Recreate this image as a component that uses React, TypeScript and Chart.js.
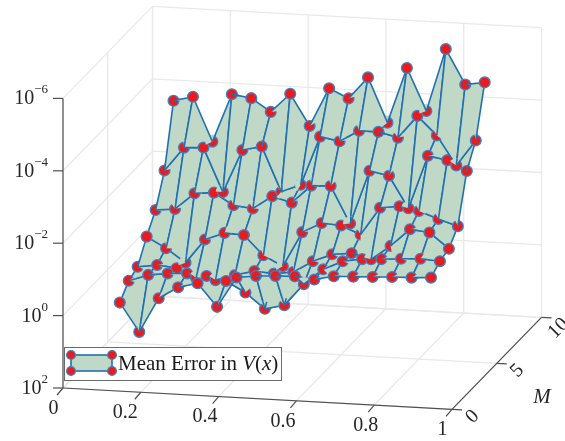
import React, { useEffect, useRef } from "react";
import { Chart, registerables } from "chart.js";

Chart.register(...registerables);

const xValues = [0.1, 0.15, 0.2, 0.25, 0.3, 0.35, 0.4, 0.45, 0.5, 0.55, 0.6, 0.65, 0.7, 0.75, 0.8, 0.85, 0.9];
const mValues = [2, 3, 4, 5, 6, 7, 8];
// log10(mean error) for each M
const errM2 = [0.09, 0.87, -0.09, -0.42, -0.56, 0.06, -0.78, -0.85, -0.88, -0.9, -0.84, -0.96, -0.98, -1.0, -1.03, -1.04, -1.07];
const errM3 = [-0.26, -0.45, -0.52, -0.55, -0.51, -0.4, -0.11, 0.31, 0.18, -0.43, -0.87, -1.12, -1.21, -1.24, -1.28, -1.31, -1.27];
const errM4 = [-0.39, -0.47, -0.41, -0.17, -0.14, -0.31, -0.45, -0.41, -0.48, -0.81, -1.03, -1.09, -0.95, -1.35, -1.84, -1.78, -1.36];
const errM5 = [-0.97, -0.68, -0.31, -0.98, -1.19, -1.16, -0.63, -0.36, -1.33, -1.61, -1.57, -1.35, -2.12, -2.19, -2.09, -1.9, -1.73];
const errM6 = [-1.45, -1.51, -1.97, -2.02, -1.7, -1.64, -2.01, -1.86, -2.36, -2.38, -1.37, -2.86, -2.75, -1.88, -3.36, -3.27, -3.0];
const errM7 = [-2.29, -2.95, -2.98, -1.78, -2.97, -3.1, -1.88, -2.1, -3.46, -3.36, -3.68, -3.68, -3.55, -4.18, -3.67, -2.87, -3.59];
const errM8 = [-3.96, -4.1, -2.89, -4.23, -4.15, -3.8, -4.33, -3.47, -4.54, -4.29, -4.9, -3.68, -5.22, -4.06, -5.8, -4.85, -4.94];
const errRows = [errM2, errM3, errM4, errM5, errM6, errM7, errM8];

const xTicks = [0, 0.2, 0.4, 0.6, 0.8, 1];
const xTickLabels = ["0", "0.2", "0.4", "0.6", "0.8", "1"];
const mTicks = [0, 5, 10];
const mTickLabels = ["0", "5", "10"];
const zTicks = [2, 0, -2, -4, -6];
const zTickLabels = ["2", "0", "\u22122", "\u22124", "\u22126"];
const legendLabel = "Mean Error in ";

const W = 565;
const H = 441;
const SERIF = '"Liberation Serif", "Times New Roman", serif';
const GRID = "#e9e9e9";
const AXIS = "#505050";
const EDGE = "#2071b3";
const FACE = "#c0d8c6";
const RED = "#e81c1f";
const RING = "#3f82c4";
const EDGE_W = 1.6;
const R_MARK = 5.4;
const R_COVER = 7.2;

// orthographic view of the box (x in 0..1, M in 0..10, log10 error in 2..-6)
function project(x: number, m: number, z: number) {
  const h = 2 - z;
  return {
    x: 63 + 389 * x + 89.5 * (m / 10),
    y: 388 + 21.3 * x - 92 * (m / 10) - 36.2 * h,
  };
}
function depth(x: number, m: number, z: number, kx: number) {
  return -kx * x + 14082 * (m / 10) - 37694 * (2 - z);
}

function lineSet(points: { x: number; y: number }[], color: string, width: number) {
  return {
    data: points,
    showLine: true,
    borderColor: color,
    borderWidth: width,
    pointRadius: 0,
    fill: false,
    clip: false,
  };
}

const SORT_KX = 300000;
const COVER_KX = 500000;
const COVER_BIAS = 18000;

function vertex(c: number, r: number) {
  const z = errRows[r][c];
  return { p: project(xValues[c], mValues[r], z), d: depth(xValues[c], mValues[r], z, COVER_KX), s: depth(xValues[c], mValues[r], z, SORT_KX) };
}

function unit(a: { x: number; y: number }, b: { x: number; y: number }) {
  const dx = b.x - a.x;
  const dy = b.y - a.y;
  const n = Math.hypot(dx, dy) || 1;
  return { x: dx / n, y: dy / n };
}

// the part of a neighbouring face that lies in front of a marker
function coverSets(c: number, r: number) {
  const v = vertex(c, r);
  const sets: any[] = [];
  const edges = new Set<string>();
  for (const dc of [-1, 1]) {
    for (const dr of [-1, 1]) {
      const cc = c + dc;
      const rr = r + dr;
      if (cc < 0 || rr < 0 || cc >= xValues.length || rr >= mValues.length) continue;
      const a = vertex(cc, r);
      const b = vertex(c, rr);
      const d1 = a.d - v.d + COVER_BIAS;
      const d2 = b.d - v.d + COVER_BIAS;
      if (d1 >= 0 && d2 >= 0) continue;
      const e1 = unit(v.p, a.p);
      const e2 = unit(v.p, b.p);
      const cross = { x: Math.abs(d2) * e1.x + Math.abs(d1) * e2.x, y: Math.abs(d2) * e1.y + Math.abs(d1) * e2.y };
      const n = Math.hypot(cross.x, cross.y) || 1;
      const dirCross = { x: cross.x / n, y: cross.y / n };
      const from = d1 < 0 ? e1 : e2;
      const to = d1 < 0 && d2 < 0 ? e2 : dirCross;
      const pts = [v.p];
      for (let t = 0; t <= 6; t++) {
        const f = t / 6;
        const dir = unit({ x: 0, y: 0 }, { x: from.x + (to.x - from.x) * f, y: from.y + (to.y - from.y) * f });
        pts.push({ x: v.p.x + R_COVER * dir.x, y: v.p.y + R_COVER * dir.y });
      }
      pts.push(v.p);
      sets.push({
        data: pts,
        showLine: true,
        borderWidth: 0,
        borderColor: FACE,
        backgroundColor: FACE,
        fill: "shape",
        pointRadius: 0,
        clip: false,
      });
      if (d1 < 0) edges.add(`${cc},${r}`);
      if (d2 < 0) edges.add(`${c},${rr}`);
    }
  }
  edges.forEach((key) => {
    const [cc, rr] = key.split(",").map(Number);
    const e = unit(v.p, vertex(cc, rr).p);
    sets.push(lineSet([v.p, { x: v.p.x + R_COVER * e.x, y: v.p.y + R_COVER * e.y }], EDGE, EDGE_W));
  });
  return sets;
}

function buildDatasets() {
  const back: any[] = [];
  // walls and floor grid
  for (const z of zTicks) {
    back.push(lineSet([project(0, 0, z), project(0, 10, z), project(1, 10, z)], GRID, 1.3));
  }
  for (const x of xTicks) {
    back.push(lineSet([project(x, 0, 2), project(x, 10, 2), project(x, 10, -6)], GRID, 1.3));
  }
  for (const m of mTicks) {
    back.push(lineSet([project(1, m, 2), project(0, m, 2), project(0, m, -6)], GRID, 1.3));
  }
  // axes and ticks
  back.push(lineSet([project(0, 0, 2), project(0, 0, -6)], AXIS, 1.2));
  back.push(lineSet([project(0, 0, 2), project(1, 0, 2)], AXIS, 1.2));
  back.push(lineSet([project(1, 0, 2), project(1, 10, 2)], AXIS, 1.2));
  for (const z of zTicks) {
    const p = project(0, 0, z);
    back.push(lineSet([p, { x: p.x - 10, y: p.y }], AXIS, 1.2));
  }
  for (const x of xTicks) {
    const p = project(x, 0, 2);
    back.push(lineSet([p, { x: p.x - 6, y: p.y + 7 }], AXIS, 1.2));
  }
  for (const m of mTicks) {
    const p = project(1, m, 2);
    back.push(lineSet([p, { x: p.x + 10, y: p.y + 0.6 }], AXIS, 1.2));
  }

  const quadDepth = (c: number, r: number) =>
    (vertex(c, r).s + vertex(c + 1, r).s + vertex(c + 1, r + 1).s + vertex(c, r + 1).s) / 4;

  const items: { d: number; sets: any[] }[] = [];
  for (let r = 0; r < mValues.length; r++) {
    for (let c = 0; c < xValues.length; c++) {
      // a marker comes after the faces that touch it
      let d = vertex(c, r).s;
      for (const [qc, qr] of [[c - 1, r - 1], [c, r - 1], [c - 1, r], [c, r]]) {
        if (qc >= 0 && qr >= 0 && qc < xValues.length - 1 && qr < mValues.length - 1) {
          d = Math.min(d, quadDepth(qc, qr) - 1);
        }
      }
      items.push({
        d,
        sets: [
          {
            data: [vertex(c, r).p],
            showLine: false,
            pointRadius: R_MARK,
            pointBorderWidth: 1.3,
            pointBackgroundColor: RED,
            pointBorderColor: RING,
            clip: false,
          },
          ...coverSets(c, r),
        ],
      });
      if (r < mValues.length - 1 && c < xValues.length - 1) {
        const pts = [vertex(c, r), vertex(c + 1, r), vertex(c + 1, r + 1), vertex(c, r + 1)].map((q) => q.p);
        pts.push(pts[0]);
        items.push({
          d: quadDepth(c, r),
          sets: [
            {
              data: pts,
              showLine: true,
              borderColor: EDGE,
              borderWidth: EDGE_W,
              backgroundColor: FACE,
              fill: "shape",
              pointRadius: 0,
              tension: 0,
              clip: false,
            },
          ],
        });
      }
    }
  }
  // far first
  items.sort((a, b) => b.d - a.d);
  const ordered = [...back];
  items.forEach((i) => ordered.push(...i.sets));
  return ordered.reverse(); // Chart.js paints the last dataset first
}

const textPlugin = {
  id: "axisText",
  afterDatasetsDraw(chart: any) {
    const ctx: CanvasRenderingContext2D = chart.ctx;
    ctx.save();
    ctx.fillStyle = "#262626";
    ctx.textBaseline = "alphabetic";
    // z ticks
    zTicks.forEach((z, i) => {
      const p = project(0, 0, z);
      const sup = zTickLabels[i];
      ctx.font = `13px ${SERIF}`;
      const sw = ctx.measureText(sup).width;
      const right = 48;
      ctx.textAlign = "right";
      ctx.fillText(sup, right, p.y - 5);
      ctx.font = `20px ${SERIF}`;
      ctx.fillText("10", right - sw, p.y + 6);
    });
    // x ticks
    ctx.font = `20px ${SERIF}`;
    ctx.textAlign = "center";
    ctx.textBaseline = "middle";
    const nudge = [2, -4, -2, -2, 3, 2];
    xTicks.forEach((x, i) => {
      const p = project(x, 0, 2);
      ctx.fillText(xTickLabels[i], p.x - 11.5 + nudge[i], p.y + 20.5);
    });
    // M ticks, rotated
    ctx.textAlign = "right";
    mTicks.forEach((m, i) => {
      const p = project(1, m, 2);
      ctx.save();
      ctx.translate(p.x + 24, p.y + 4);
      ctx.rotate((-45 * Math.PI) / 180);
      ctx.fillText(mTickLabels[i], 0, 0);
      ctx.restore();
    });
    // M title
    ctx.textAlign = "center";
    ctx.font = `italic 21px ${SERIF}`;
    ctx.fillText("M", 542, 397);

    // legend
    ctx.fillStyle = "#ffffff";
    ctx.strokeStyle = "#6a6a6a";
    ctx.lineWidth = 1;
    ctx.fillRect(64.5, 347.5, 217, 33);
    ctx.strokeRect(64.5, 347.5, 217, 33);
    ctx.fillStyle = FACE;
    ctx.strokeStyle = EDGE;
    ctx.lineWidth = EDGE_W;
    ctx.fillRect(71, 355, 41, 16);
    ctx.strokeRect(71, 355, 41, 16);
    ctx.lineWidth = 1.3;
    for (const [px, py] of [[71, 355], [112, 355], [71, 371], [112, 371]]) {
      ctx.beginPath();
      ctx.arc(px, py, 4.4, 0, Math.PI * 2);
      ctx.fillStyle = RED;
      ctx.fill();
      ctx.strokeStyle = RING;
      ctx.stroke();
    }
    ctx.fillStyle = "#1a1a1a";
    ctx.textAlign = "left";
    ctx.textBaseline = "alphabetic";
    let tx = 118;
    const base = 370;
    const upright = `21px ${SERIF}`;
    const italic = `italic 21px ${SERIF}`;
    ctx.font = upright;
    ctx.fillText(legendLabel, tx, base);
    tx += ctx.measureText(legendLabel).width;
    ctx.font = italic;
    ctx.fillText("V", tx, base);
    tx += ctx.measureText("V").width;
    ctx.font = upright;
    ctx.fillText("(", tx, base);
    tx += ctx.measureText("(").width;
    ctx.font = italic;
    ctx.fillText("x", tx, base);
    tx += ctx.measureText("x").width;
    ctx.font = upright;
    ctx.fillText(")", tx, base);
    ctx.restore();
  },
};

export default function App() {
  const ref = useRef<HTMLCanvasElement | null>(null);
  useEffect(() => {
    document.body.style.margin = "0";
    const chart = new Chart(ref.current as HTMLCanvasElement, {
      type: "scatter",
      data: { datasets: buildDatasets() },
      plugins: [textPlugin],
      options: {
        animation: false,
        responsive: false,
        layout: { padding: 0, autoPadding: false },
        plugins: { legend: { display: false }, tooltip: { enabled: false }, filler: { propagate: false } },
        scales: {
          x: { type: "linear", display: false, min: 0, max: W },
          y: { type: "linear", display: false, min: 0, max: H, reverse: true },
        },
      },
    } as any);
    return () => chart.destroy();
  }, []);
  return (
    <div style={{ width: W, height: H, background: "#fff" }}>
      <canvas ref={ref} width={W} height={H} style={{ display: "block" }} />
    </div>
  );
}
